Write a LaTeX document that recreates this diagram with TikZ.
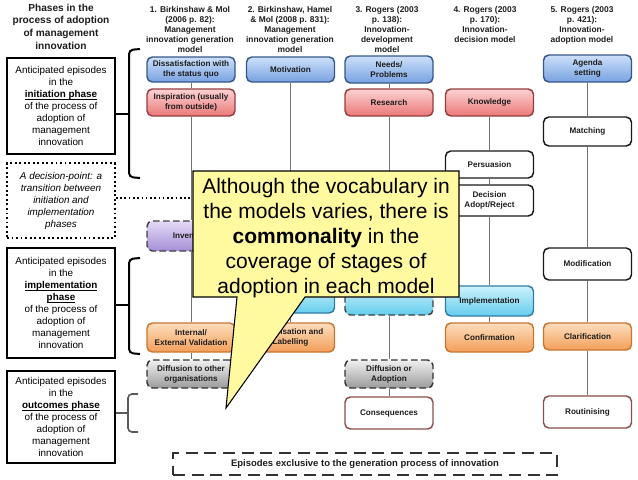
\documentclass[tikz,border=0pt]{standalone}
\usepackage{fontspec}
\setmainfont{Liberation Sans}
\definecolor{bluetop}{RGB}{205,224,250}
\definecolor{bluebot}{RGB}{120,162,225}
\definecolor{bluedraw}{RGB}{55,88,140}
\definecolor{redtop}{RGB}{252,210,210}
\definecolor{redbot}{RGB}{234,120,120}
\definecolor{reddraw}{RGB}{150,62,62}
\definecolor{cyantop}{RGB}{205,242,252}
\definecolor{cyanbot}{RGB}{100,205,238}
\definecolor{cyandraw}{RGB}{50,125,165}
\definecolor{orangetop}{RGB}{252,222,190}
\definecolor{orangebot}{RGB}{243,158,88}
\definecolor{orangedraw}{RGB}{200,118,48}
\definecolor{graytop}{RGB}{240,240,240}
\definecolor{graybot}{RGB}{155,155,155}
\definecolor{purpletop}{RGB}{228,218,246}
\definecolor{purplebot}{RGB}{165,142,215}
\definecolor{browndraw}{RGB}{140,78,78}
\definecolor{callfill}{RGB}{255,250,160}
\definecolor{txt}{RGB}{30,30,30}
\newcommand\phul[1]{\setbox0\hbox{#1}\rlap{\rule[-1.4pt]{\wd0}{0.6pt}}\box0}
\tikzset{
  mb/.style={draw, rounded corners=4pt, line width=1.1pt, minimum width=66pt,
    minimum height=20.5pt, inner sep=1pt, align=center,
    font=\bfseries\fontsize{6.1}{7.4}\selectfont, text=txt},
  bluebox/.style={mb, draw=bluedraw, top color=bluetop, bottom color=bluebot},
  redbox/.style={mb, draw=reddraw, top color=redtop, bottom color=redbot},
  cyanbox/.style={mb, draw=cyandraw, top color=cyantop, bottom color=cyanbot},
  orangebox/.style={mb, draw=orangedraw, top color=orangetop, bottom color=orangebot},
  graybox/.style={mb, draw=black!80, dash pattern=on 5pt off 2.5pt, top color=graytop, bottom color=graybot},
  purplebox/.style={mb, draw=black!75, dash pattern=on 5pt off 2.5pt, top color=purpletop, bottom color=purplebot},
  whitebox/.style={mb, draw=black!90, fill=white},
  brownbox/.style={mb, draw=browndraw, fill=white},
  conn/.style={draw=black!55, line width=0.7pt},
  hdr/.style={anchor=north, align=center, font=\bfseries\fontsize{6.3}{7.5}\selectfont, text=txt},
  phasebox/.style={draw, line width=1.4pt, minimum width=81pt, align=center,
    font=\fontsize{7.4}{9}\selectfont, inner sep=1pt},
  brk/.style={line width=1.5pt, rounded corners=3pt},
}
\begin{document}
\begin{tikzpicture}[x=0.75pt,y=-0.75pt]
\useasboundingbox (0,0) rectangle (638,479);
\fill[white] (0,0) rectangle (638,479);

% left column
\node[align=center, font=\bfseries\fontsize{7.6}{9.5}\selectfont, text=txt] (title) at (61,26.5)
  {Phases in the\\process of adoption\\of management\\innovation};
\node[phasebox, minimum height=72pt] (ib) at (61,106)
  {Anticipated episodes\\in the\\\phul{\textbf{initiation phase}}\\of the process of\\adoption of\\management\\innovation};
\node[phasebox, dotted, minimum height=56pt, font=\itshape\fontsize{7.4}{9}\selectfont] (dp) at (61,200.5)
  {A decision-point: a\\transition between\\initiation and\\implementation\\phases};
\node[phasebox, minimum height=82.5pt] (impb) at (61,303)
  {Anticipated episodes\\in the\\\phul{\textbf{implementation}}\\\phul{\textbf{phase}}\\of the process of\\adoption of\\management\\innovation};
\node[phasebox, minimum height=69pt] (ob) at (61,417)
  {Anticipated episodes\\in the\\\phul{\textbf{outcomes phase}}\\of the process of\\adoption of\\management\\innovation};

% brackets
\coordinate (b1m) at (129,114);
\draw[brk] (140,49) -- (129,50) -- (129,177) -- (140,178);
\draw[brk] (ib.east |- b1m) -- (b1m);
\coordinate (b2m) at (129,305);
\draw[brk] (140,258) -- (129,259) -- (129,353) -- (140,354);
\draw[brk] (impb.east |- b2m) -- (b2m);
\coordinate (b3m) at (128,413);
\draw[brk, draw=black!65, line width=1.2pt] (138,394) -- (128,394) -- (128,432) -- (138,432);
\draw[brk, draw=black!65, line width=1.2pt] (ob.east |- b3m) -- (b3m);
\coordinate (dpe) at (200,198);
\draw[dotted, line width=1.2pt] (dp.east |- dpe) -- (dpe);

% headers
\node[hdr] (h1) at (190,2) {1. Birkinshaw \& Mol\\(2006 p. 82):\\Management\\innovation generation\\model};
\node[hdr] (h2) at (290,2) {2. Birkinshaw, Hamel\\\& Mol (2008 p. 831):\\Management\\innovation generation\\model};
\node[hdr] (h3) at (387,2) {3. Rogers (2003\\p. 138):\\Innovation-\\development\\model};
\node[hdr] (h4) at (485,2) {4. Rogers (2003\\p. 170):\\Innovation-\\decision model};
\node[hdr] (h5) at (582,2) {5. Rogers (2003\\p. 421):\\Innovation-\\adoption model};

% column 1
\node[bluebox, minimum height=18.75pt] (d1) at (191,69.5) {Dissatisfaction with\\the status quo};
\node[redbox, minimum height=20.25pt] (d2) at (191,102.5) {Inspiration (usually\\from outside)};
\node[purplebox, minimum height=22.5pt] (d3) at (191,236) {Invention};
\node[orangebox, minimum height=21.75pt] (d4) at (191,337.5) {Internal/\\External Validation};
\node[graybox, minimum height=21pt] (d5) at (191,374) {Diffusion to other\\organisations};
\draw[conn] (d1) -- (d2);
\draw[conn] (d2) -- (d3);
\draw[conn] (d3) -- (d4);
\draw[conn] (d4) -- (d5);

% column 2
\node[bluebox, minimum height=18.75pt] (m1) at (290.5,69.5) {Motivation};
\node[cyanbox, minimum height=20.25pt] (m3) at (290.5,299.5) {};
\node[orangebox, minimum height=21.75pt] (m4) at (290.5,337.5) {Theorisation and\\Labelling};
\draw[conn] (m1) -- (m3);
\draw[conn] (m3) -- (m4);

% column 3
\node[bluebox, minimum height=20.25pt] (r1) at (389,69.5) {Needs/\\Problems};
\node[redbox, minimum height=20.25pt] (r2) at (389,102.5) {Research};
\node[cyanbox, dash pattern=on 5pt off 2.5pt, draw=black!75, minimum height=21.75pt] (r4) at (389,300.5) {};
\node[graybox, minimum height=21pt] (r5) at (389,374) {Diffusion or\\Adoption};
\node[brownbox, minimum height=24pt] (r6) at (389,413) {Consequences};
\draw[conn] (r1) -- (r2);
\draw[conn] (r2) -- (r4);
\draw[conn] (r4) -- (r5);
\draw[conn] (r5) -- (r6);

% column 4
\node[redbox, minimum height=20.25pt] (k1) at (489.5,102.5) {Knowledge};
\node[whitebox, minimum height=20.25pt] (k2) at (489.5,164.5) {Persuasion};
\node[whitebox, minimum height=23.25pt] (k3) at (489.5,200.5) {Decision\\Adopt/Reject};
\node[cyanbox, minimum height=22.5pt] (k4) at (489.5,301) {Implementation};
\node[orangebox, minimum height=21.75pt] (k5) at (489.5,337.5) {Confirmation};
\draw[conn] (k1) -- (k2);
\draw[conn] (k2) -- (k3);
\draw[conn] (k3) -- (k4);
\draw[conn] (k4) -- (k5);

% column 5
\node[bluebox, minimum height=20.25pt] (g1) at (587.5,68.5) {Agenda\\setting};
\node[whitebox, minimum height=21.75pt] (g2) at (587.5,131.5) {Matching};
\node[whitebox, minimum height=24pt] (g3) at (587.5,264) {Modification};
\node[orangebox, minimum height=20.25pt] (g4) at (587.5,336.5) {Clarification};
\node[brownbox, minimum height=24pt] (g5) at (587.5,412) {Routinising};
\draw[conn] (g1) -- (g2);
\draw[conn] (g2) -- (g3);
\draw[conn] (g3) -- (g4);
\draw[conn] (g4) -- (g5);

% bottom dashed box
\node[draw=black!80, line width=1.4pt, dash pattern=on 9pt off 5pt, minimum width=288pt, minimum height=16.5pt,
  font=\bfseries\fontsize{7.1}{8}\selectfont, text=txt] (excl) at (365,464)
  {Episodes exclusive to the generation process of innovation};

% callout
\draw[fill=callfill, line width=0.8pt, line join=miter]
  (193,171) -- (459,171) -- (459,297) -- (305,297) -- (226,408) -- (237,297) -- (193,297) -- cycle;
\node[align=center, font=\fontsize{15.75}{18.75}\selectfont, text=black] (callout) at (326,238)
  {Although the vocabulary in\\the models varies, there is\\\textbf{commonality} in the\\coverage of stages of\\adoption in each model};
\end{tikzpicture}
\end{document}
